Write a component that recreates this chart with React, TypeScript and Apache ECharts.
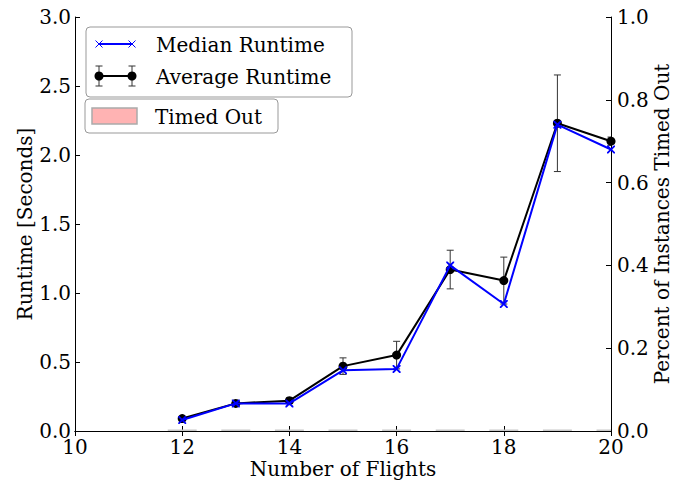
import React, { useEffect, useRef } from "react";
import * as echarts from "echarts";

// Flight counts and runtimes (seconds)
const flights = [12, 13, 14, 15, 16, 17, 18, 19, 20];
const medianRuntime = [0.08, 0.2, 0.2, 0.44, 0.45, 1.2, 0.92, 2.22, 2.04];
const averageRuntime = [0.09, 0.2, 0.22, 0.47, 0.55, 1.17, 1.09, 2.23, 2.1];
const averageError = [0.01, 0.02, 0.02, 0.06, 0.1, 0.14, 0.17, 0.35, 0.03];
const timedOutShare = [0, 0, 0, 0, 0, 0, 0, 0, 0];

const leftTicks = { min: 0, max: 3, interval: 0.5 };
const rightTicks = { min: 0, max: 1, interval: 0.2 };
const xTicks = { min: 10, max: 20, interval: 2 };

const MEDIAN = "Median Runtime";
const AVERAGE = "Average Runtime";
const TIMED_OUT = "Timed Out";

const FONT = "DejaVu Serif";
const BAR_HALF = 0.27;

const X_MARK =
  "path://M0,0 L1.6,0 L5,3.4 L8.4,0 L10,0 L10,1.6 L6.6,5 L10,8.4 L10,10 L8.4,10 L5,6.6 L1.6,10 L0,10 L0,8.4 L3.4,5 L0,1.6 Z";

const labelStyle = { fontSize: 20, fontFamily: FONT, color: "#000" };

function legendCross(cx: number, cy: number) {
  const r = 3.5;
  return [
    { type: "line", shape: { x1: cx - r, y1: cy - r, x2: cx + r, y2: cy + r }, style: { stroke: "#0000ff", lineWidth: 1 } },
    { type: "line", shape: { x1: cx - r, y1: cy + r, x2: cx + r, y2: cy - r }, style: { stroke: "#0000ff", lineWidth: 1 } },
  ];
}

function legendErrorBar(cx: number, cy: number) {
  const s = { stroke: "#333", lineWidth: 1 };
  return [
    { type: "line", shape: { x1: cx, y1: cy - 10, x2: cx, y2: cy + 10 }, style: s },
    { type: "line", shape: { x1: cx - 3.5, y1: cy - 10, x2: cx + 3.5, y2: cy - 10 }, style: s },
    { type: "line", shape: { x1: cx - 3.5, y1: cy + 10, x2: cx + 3.5, y2: cy + 10 }, style: s },
    { type: "circle", shape: { cx, cy, r: 4.5 }, style: { fill: "#000" } },
  ];
}

function legendText(x: number, y: number, text: string) {
  return {
    type: "text",
    style: { x, y, text, fontSize: 20, fontFamily: FONT, fill: "#000", verticalAlign: "middle", align: "left" },
  };
}

export default function App() {
  const ref = useRef<HTMLDivElement>(null);

  useEffect(() => {
    if (!ref.current) return;
    document.body.style.margin = "0";
    const chart = echarts.init(ref.current, null, { renderer: "svg" });

    const medianData = flights.map((f, i) => [f, medianRuntime[i]]);
    const averageData = flights.map((f, i) => [f, averageRuntime[i]]);
    const errorData = flights.map((f, i) => [f, averageRuntime[i] - averageError[i], averageRuntime[i] + averageError[i]]);
    const timedOutData = flights.map((f, i) => [f, timedOutShare[i]]);

    const axisLine = { show: true, lineStyle: { color: "#000", width: 1 } };
    const axisTick = { show: true, inside: true, length: 5, lineStyle: { color: "#000" } };

    chart.setOption({
      animation: false,
      backgroundColor: "#fff",
      grid: { left: 75, right: 64, top: 17, bottom: 54, containLabel: false, outerBoundsMode: "none" },
      xAxis: [
        {
          type: "value",
          position: "bottom",
          ...xTicks,
          axisLine,
          axisTick,
          axisLabel: { ...labelStyle, margin: 6 },
          splitLine: { show: false },
          name: "Number of Flights",
          nameLocation: "middle",
          nameGap: 28,
          nameMoveOverlap: false,
          nameTextStyle: labelStyle,
        },
        {
          type: "value",
          position: "top",
          ...xTicks,
          axisLine,
          axisTick,
          axisLabel: { show: false },
          splitLine: { show: false },
        },
      ],
      yAxis: [
        {
          type: "value",
          position: "left",
          ...leftTicks,
          axisLine,
          axisTick,
          axisLabel: { ...labelStyle, margin: 4, formatter: (v: number) => v.toFixed(1) },
          splitLine: { show: false },
          name: "Runtime [Seconds]",
          nameLocation: "middle",
          nameRotate: 90,
          nameGap: 40,
          nameMoveOverlap: false,
          nameTextStyle: labelStyle,
        },
        {
          type: "value",
          position: "right",
          ...rightTicks,
          axisLine,
          axisTick,
          axisLabel: { ...labelStyle, margin: 6, formatter: (v: number) => v.toFixed(1) },
          splitLine: { show: false },
          name: "Percent of Instances Timed Out",
          nameLocation: "middle",
          nameRotate: 90,
          nameGap: 41,
          nameMoveOverlap: false,
          nameTextStyle: labelStyle,
        },
      ],
      series: [
        {
          name: TIMED_OUT,
          type: "custom",
          xAxisIndex: 0,
          yAxisIndex: 1,
          clip: true,
          data: timedOutData,
          renderItem: (params: any, api: any) => {
            const x = api.value(0);
            const v = api.value(1);
            const a = api.coord([x - BAR_HALF, 0]);
            const b = api.coord([x + BAR_HALF, 0]);
            const c = api.coord([x + BAR_HALF, v]);
            const d = api.coord([x - BAR_HALF, v]);
            return {
              type: "polygon",
              shape: { points: [a, b, c, d] },
              style: { fill: "#ffb3b3", stroke: "#c8c8c8", lineWidth: 3 },
            };
          },
          z: 1,
        },
        {
          name: "error",
          type: "custom",
          xAxisIndex: 0,
          yAxisIndex: 0,
          clip: true,
          data: errorData,
          renderItem: (params: any, api: any) => {
            const x = api.value(0);
            const lo = api.coord([x, api.value(1)]);
            const hi = api.coord([x, api.value(2)]);
            const w = 3.5;
            const s = { stroke: "#333", lineWidth: 1 };
            return {
              type: "group",
              children: [
                { type: "line", shape: { x1: hi[0], y1: hi[1], x2: lo[0], y2: lo[1] }, style: s },
                { type: "line", shape: { x1: hi[0] - w, y1: hi[1], x2: hi[0] + w, y2: hi[1] }, style: s },
                { type: "line", shape: { x1: lo[0] - w, y1: lo[1], x2: lo[0] + w, y2: lo[1] }, style: s },
              ],
            };
          },
          z: 2,
        },
        {
          name: AVERAGE,
          type: "line",
          xAxisIndex: 0,
          yAxisIndex: 0,
          data: averageData,
          symbol: "circle",
          symbolSize: 9,
          showAllSymbol: true,
          lineStyle: { color: "#000", width: 2 },
          itemStyle: { color: "#000" },
          z: 3,
        },
        {
          name: MEDIAN,
          type: "line",
          xAxisIndex: 0,
          yAxisIndex: 0,
          data: medianData,
          symbol: X_MARK,
          symbolSize: 8,
          showAllSymbol: true,
          lineStyle: { color: "#0000ff", width: 2 },
          itemStyle: { color: "#0000ff" },
          z: 4,
        },
      ],
      graphic: [
        { type: "rect", shape: { x: 86, y: 27, width: 266, height: 70, r: 4 }, style: { fill: "#fff", stroke: "#999", lineWidth: 1 }, z: 10 },
        { type: "line", shape: { x1: 99, y1: 44, x2: 132, y2: 44 }, style: { stroke: "#0000ff", lineWidth: 2 }, z: 11 },
        ...legendCross(99, 44).map((e) => ({ ...e, z: 11 })),
        ...legendCross(132, 44).map((e) => ({ ...e, z: 11 })),
        { ...legendText(156, 45, MEDIAN), z: 11 },
        { type: "line", shape: { x1: 99, y1: 76, x2: 132, y2: 76 }, style: { stroke: "#000", lineWidth: 2 }, z: 11 },
        ...legendErrorBar(99, 76).map((e) => ({ ...e, z: 11 })),
        ...legendErrorBar(132, 76).map((e) => ({ ...e, z: 11 })),
        { ...legendText(156, 77, AVERAGE), z: 11 },
        { type: "rect", shape: { x: 85, y: 99, width: 193, height: 34, r: 4 }, style: { fill: "#fff", stroke: "#999", lineWidth: 1 }, z: 10 },
        { type: "rect", shape: { x: 92, y: 108, width: 45, height: 16 }, style: { fill: "#ffb3b3", stroke: "#aaa", lineWidth: 1.5 }, z: 11 },
        { ...legendText(155, 117, TIMED_OUT), z: 11 },
      ],
    });

    return () => chart.dispose();
  }, []);

  return (
    <div
      ref={ref}
      style={{ position: "fixed", left: 0, top: 0, width: 675, height: 485, background: "#fff" }}
    />
  );
}
